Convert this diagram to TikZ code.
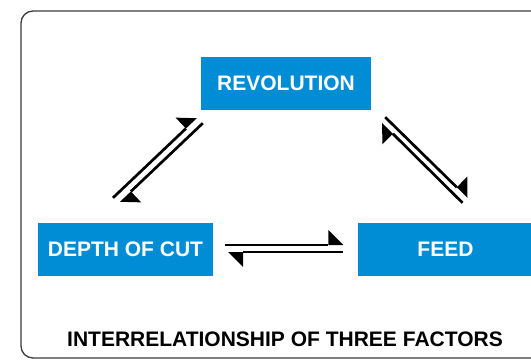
\documentclass[tikz,border=0pt]{standalone}
\usepackage{fontspec}
\setmainfont{Liberation Sans}
\usepackage{tikz}
\usetikzlibrary{arrows.meta,calc}
\definecolor{FactorBlue}{HTML}{008DD6}
\definecolor{FrameGrey}{HTML}{3C3C3C}

\begin{document}
\begin{tikzpicture}[x=1pt,y=1pt,
    factor/.style={fill=FactorBlue,text=white,font=\bfseries\fontsize{21}{25}\selectfont,
      minimum width=175pt,minimum height=53pt,inner sep=0pt},
    harp/.style={line width=2.7pt,-{Triangle[harpoon,length=15pt,width=30pt,line width=0pt]}}]
  \useasboundingbox (0,0) rectangle (531,360);
  \clip (0,0) rectangle (531,360);
  \draw[FrameGrey,line width=1.3pt,rounded corners=12pt] (21,2) rectangle (560,349);
  % the three factors
  \node[factor,minimum width=170pt] (rev) at (286,276.5) {REVOLUTION};
  \node[factor] (doc) at (125.5,110.5) {DEPTH OF CUT};
  \node[factor] (feed) at (445.5,110.5) {FEED};
  \node[font=\bfseries\fontsize{21}{25}\selectfont] (title) at (285,21) {INTERRELATIONSHIP OF THREE FACTORS};
  % paired half arrows
  \draw[harp] ($(doc.east)+(12,4.5)$) -- ($(feed.west)+(-14.5,4.5)$);
  \draw[harp] ($(feed.west)+(-14.5,-2.5)$) -- ($(doc.east)+(15,-2.5)$);
  \draw[harp] ($(doc.north)+(-12.5,25)$) -- ($(rev.south west)+(-4,-8)$);
  \draw[harp] ($(rev.south west)+(2,-13)$) -- ($(doc.north)+(-5.5,21)$);
  \draw[harp] ($(rev.south east)+(14,-7)$) -- ($(feed.north)+(22,25)$);
  \draw[harp] ($(feed.north)+(17,20)$) -- ($(rev.south east)+(11,-13)$);
\end{tikzpicture}
\end{document}
